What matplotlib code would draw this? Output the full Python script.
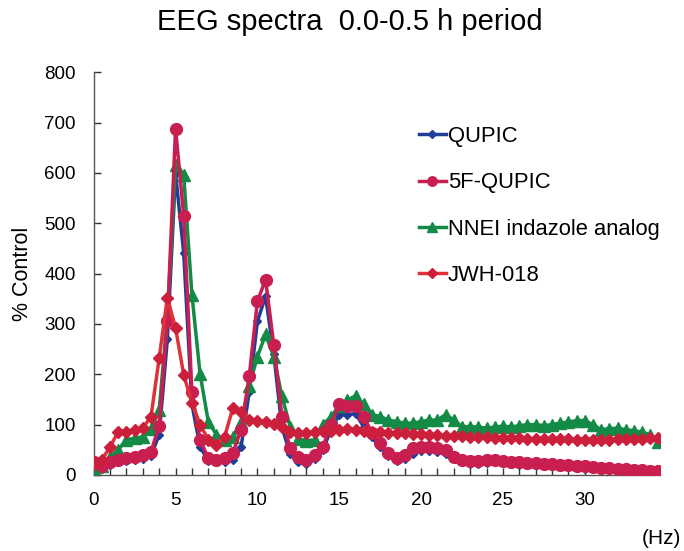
import numpy as np
import matplotlib.pyplot as plt
from matplotlib.ticker import MultipleLocator

plt.rcParams['font.family'] = ['Liberation Sans', 'DejaVu Sans']

freq = np.arange(70) * 0.5  # 0 .. 34.5 Hz

qupic = [15, 12, 20, 25, 28, 30, 32, 38, 80, 270, 600, 440, 140, 56, 28, 25,
         25, 30, 55, 165, 305, 355, 240, 95, 42, 25, 22, 32, 50, 90, 120, 120,
         122, 95, 75, 55, 38, 28, 32, 42, 48, 48, 45, 42, 32, 25, 22, 22,
         24, 25, 25, 22, 20, 20, 19, 18, 17, 16, 15, 14, 12, 11, 10, 9,
         8, 7, 6, 5, 4, 4]
fqupic = [25, 17, 25, 30, 33, 36, 40, 46, 98, 305, 688, 514, 165, 70, 33, 30,
          33, 43, 90, 196, 345, 388, 259, 116, 53, 36, 30, 40, 56, 100, 140, 136,
          136, 116, 83, 63, 43, 33, 40, 53, 56, 56, 53, 50, 36, 30, 27, 28,
          30, 30, 28, 26, 25, 24, 23, 22, 21, 20, 19, 18, 17, 15, 14, 13,
          12, 11, 10, 9, 8, 7]
nnei = [13, 17, 36, 50, 70, 73, 76, 92, 129, 315, 615, 595, 358, 200, 106, 80,
        70, 76, 105, 176, 235, 279, 235, 156, 96, 72, 68, 70, 100, 116, 136, 149,
        157, 140, 120, 116, 109, 106, 103, 103, 106, 109, 109, 120, 109, 96, 96, 95,
        93, 95, 97, 95, 98, 100, 100, 98, 100, 103, 105, 108, 108, 100, 90, 92,
        93, 90, 88, 85, 80, 65]
jwh = [22, 30, 56, 86, 86, 90, 93, 116, 232, 352, 292, 199, 143, 100, 70, 60,
       76, 133, 125, 110, 108, 105, 102, 95, 85, 83, 83, 86, 88, 88, 90, 92,
       90, 88, 86, 85, 84, 84, 83, 82, 82, 80, 80, 78, 78, 77, 76, 76,
       75, 74, 74, 73, 73, 72, 72, 72, 71, 71, 71, 70, 70, 70, 70, 70,
       71, 71, 72, 72, 73, 73]

fig = plt.figure(figsize=(6.84, 5.51), dpi=100)
ax = fig.add_axes([0.137, 0.138, 0.828, 0.731])

ax.plot(freq, qupic, color='#1f3d99', lw=2.5, marker='D', ms=4.5,
        label='QUPIC', zorder=2)
ax.plot(freq, fqupic, color='#c81e50', lw=2.5, marker='o', ms=8.5,
        label='5F-QUPIC', zorder=4)
ax.plot(freq, nnei, color='#138a45', lw=2.5, marker='^', ms=8.5,
        label='NNEI indazole analog', zorder=3)
ax.plot(freq, jwh, color='#e0303a', lw=2.5, marker='D', ms=6,
        mfc='#cc1f3c', mec='#cc1f3c', label='JWH-018', zorder=5)

ax.set_xlim(0, 34.6)
ax.set_ylim(0, 800)
ax.xaxis.set_major_locator(MultipleLocator(5))
ax.xaxis.set_minor_locator(MultipleLocator(1))
ax.yaxis.set_major_locator(MultipleLocator(100))
ax.tick_params(axis='both', direction='in', length=5, width=1, color='#333333',
               labelsize=13.5)
ax.tick_params(axis='y', pad=13)
ax.tick_params(axis='x', pad=12)
ax.tick_params(axis='x', which='minor', direction='in', length=5, width=1,
               color='#333333')
for s in ['top', 'right']:
    ax.spines[s].set_visible(False)
for s in ['left', 'bottom']:
    ax.spines[s].set_color('#555555')
    ax.spines[s].set_linewidth(1)

ax.set_ylabel('% Control', fontsize=15.5, labelpad=8)
fig.text(0.967, 0.012, '(Hz)', fontsize=15, ha='center')
fig.suptitle('EEG spectra  0.0-0.5 h period', fontsize=21, x=0.511, y=0.985)

ax.legend(loc='upper left', bbox_to_anchor=(0.54, 0.915), frameon=False,
          fontsize=15.8, handlelength=1.2, handletextpad=0.1,
          labelspacing=1.15, markerscale=0.8)

fig.savefig('out.png', dpi=100)
